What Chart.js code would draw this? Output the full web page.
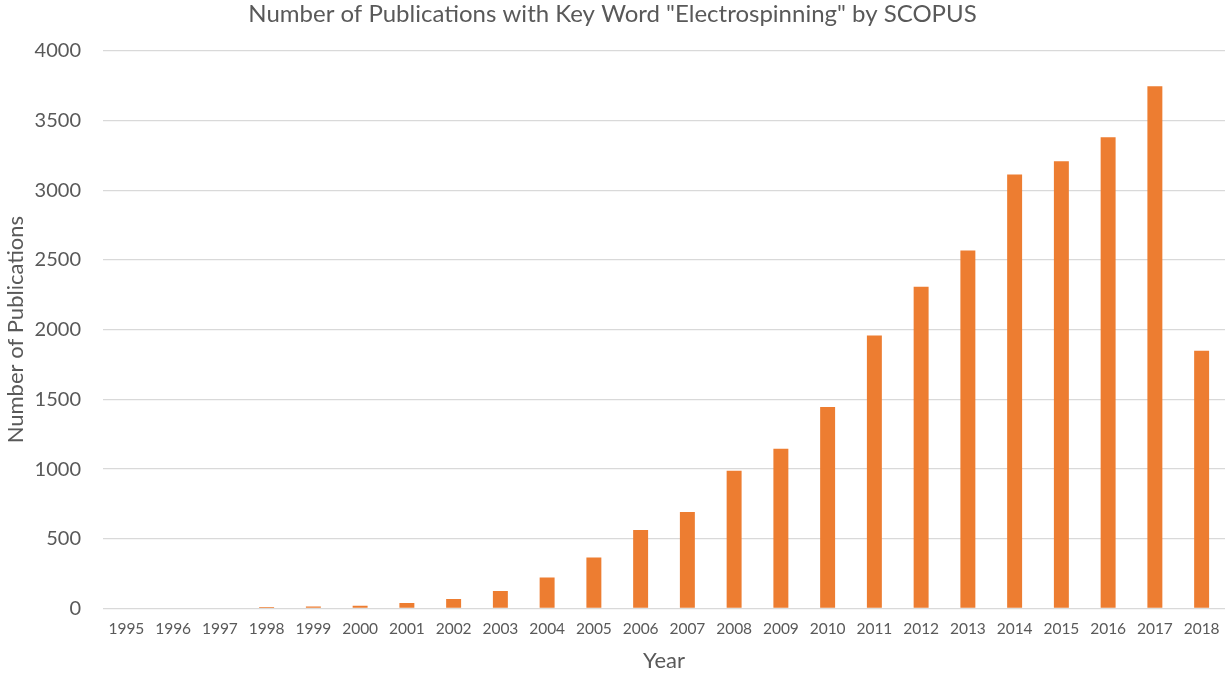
<!DOCTYPE html>
<html>
<head>
<meta charset="utf-8">
<script src="https://cdn.jsdelivr.net/npm/chart.js@4/dist/chart.umd.min.js"></script>
<style>
  html, body { margin: 0; padding: 0; background: #ffffff; }
  #wrap { width: 1225px; height: 674px; position: relative; }
</style>
</head>
<body>
<div id="wrap"><canvas id="c" width="1225" height="674"></canvas></div>
<script>
// Publications per year containing the key word "Electrospinning" (SCOPUS)
const years = ['1995','1996','1997','1998','1999','2000','2001','2002','2003','2004','2005','2006',
               '2007','2008','2009','2010','2011','2012','2013','2014','2015','2016','2017','2018'];
const publications = [0, 0, 0, 10, 15, 20, 40, 68, 125, 222, 365, 563,
                      692, 988, 1145, 1445, 1958, 2308, 2568, 3112, 3207, 3380, 3745, 1848];
const yTicks = [0, 500, 1000, 1500, 2000, 2500, 3000, 3500, 4000];

const FONT = 'Lato, "Open Sans", "DejaVu Sans", sans-serif';
const GREY = '#595959';

new Chart(document.getElementById('c'), {
  type: 'bar',
  data: {
    labels: years,
    datasets: [{
      data: publications,
      backgroundColor: '#ed7d31',
      borderWidth: 0,
      categoryPercentage: 1.0,
      barPercentage: 0.32
    }]
  },
  options: {
    responsive: false,
    animation: false,
    layout: { padding: { top: 0, right: 0, bottom: 0, left: 0 } },
    plugins: {
      legend: { display: false },
      tooltip: { enabled: false },
      title: {
        display: true,
        text: 'Number of Publications with Key Word "Electrospinning" by SCOPUS',
        color: GREY,
        font: { family: FONT, size: 24, weight: 'normal', lineHeight: 1.2 },
        padding: { top: 0, bottom: 22 }
      }
    },
    scales: {
      x: {
        // fixed axis band; the plot area runs to the right edge of the canvas
        afterFit: (axis) => { axis.height = 65.5; axis.paddingLeft = 0; axis.paddingRight = 0; },
        grid: { display: false, drawTicks: false },
        border: { display: false },
        ticks: { color: GREY, font: { family: FONT, size: 15.5 }, padding: 11, maxRotation: 0, autoSkip: false },
        title: { display: true, text: 'Year', color: GREY, font: { family: FONT, size: 22 }, padding: { top: 4, bottom: 0 } }
      },
      y: {
        min: 0,
        max: 4000,
        afterFit: (axis) => { axis.width = 103; },
        afterBuildTicks: (axis) => { axis.ticks = yTicks.map(v => ({ value: v })); },
        grid: { color: '#d9d9d9', lineWidth: 1.3, drawTicks: false },
        border: { display: false },
        ticks: { color: GREY, font: { family: FONT, size: 20 }, padding: 22, callback: (v) => String(v) },
        title: { display: true, text: 'Number of Publications', color: GREY, font: { family: FONT, size: 22 }, padding: { top: 3, bottom: 0 } }
      }
    }
  }
});
</script>
</body>
</html>
